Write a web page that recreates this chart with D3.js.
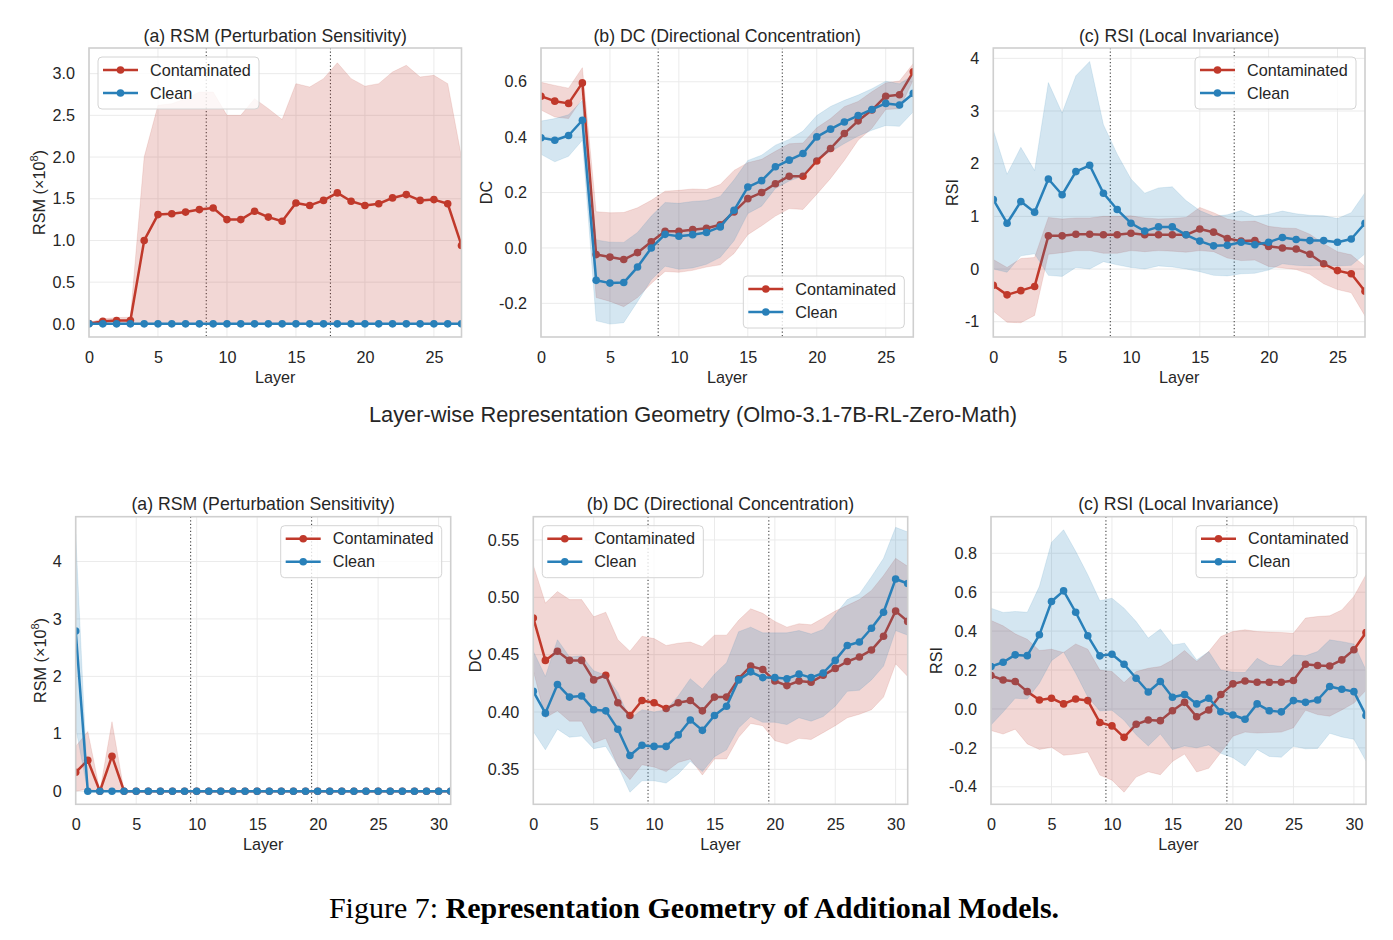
<!DOCTYPE html>
<html>
<head>
<meta charset="utf-8">
<script src="https://cdn.jsdelivr.net/npm/d3@7"></script>
<style>
    body { margin: 0; background: #fff; }
    svg text { font-family: "Liberation Sans", Arial, sans-serif; fill: #262626; }
</style>
</head>
<body>
<svg id="fig" width="1393" height="940"></svg>
<script>
// ---- top row: Olmo-3.1-7B-RL-Zero-Math (28 layers) ----
const olmoRsmCont   = [0.005, 0.03, 0.04, 0.04, 1.0, 1.31, 1.32, 1.34, 1.37, 1.39, 1.25, 1.25, 1.35, 1.28, 1.23, 1.45, 1.42, 1.48, 1.57, 1.47, 1.42, 1.44, 1.51, 1.55, 1.48, 1.49, 1.44, 0.94];
const olmoRsmContSd = [0.01, 0.03, 0.035, 0.04, 1.0, 1.31, 1.32, 1.36, 1.41, 1.39, 1.25, 1.25, 1.35, 1.30, 1.22, 1.43, 1.42, 1.46, 1.56, 1.47, 1.43, 1.44, 1.51, 1.55, 1.48, 1.49, 1.44, 1.06];
const olmoRsmClean   = [0, 0, 0, 0, 0, 0, 0, 0, 0, 0, 0, 0, 0, 0, 0, 0, 0, 0, 0, 0, 0, 0, 0, 0, 0, 0, 0, 0];
const olmoRsmCleanSd = [0, 0, 0, 0, 0, 0, 0, 0, 0, 0, 0, 0, 0, 0, 0, 0, 0, 0, 0, 0, 0, 0, 0, 0, 0, 0, 0, 0];

const olmoDcCont    = [0.548, 0.53, 0.522, 0.596, -0.024, -0.033, -0.042, -0.017, 0.022, 0.06, 0.06, 0.066, 0.071, 0.084, 0.13, 0.178, 0.2, 0.232, 0.259, 0.259, 0.314, 0.359, 0.413, 0.459, 0.498, 0.548, 0.553, 0.636];
const olmoDcContSd  = [0.05, 0.057, 0.055, 0.055, 0.155, 0.16, 0.17, 0.162, 0.15, 0.145, 0.148, 0.147, 0.14, 0.145, 0.15, 0.13, 0.12, 0.117, 0.117, 0.12, 0.12, 0.108, 0.097, 0.07, 0.066, 0.048, 0.05, 0.03];
const olmoDcClean   = [0.398, 0.389, 0.406, 0.461, -0.117, -0.127, -0.125, -0.069, 0.0, 0.049, 0.042, 0.048, 0.056, 0.076, 0.136, 0.22, 0.243, 0.293, 0.317, 0.341, 0.401, 0.429, 0.455, 0.478, 0.5, 0.522, 0.516, 0.558];
const olmoDcCleanSd = [0.06, 0.078, 0.075, 0.072, 0.146, 0.148, 0.145, 0.125, 0.115, 0.115, 0.119, 0.12, 0.115, 0.11, 0.11, 0.096, 0.092, 0.078, 0.075, 0.081, 0.077, 0.082, 0.078, 0.074, 0.075, 0.08, 0.077, 0.066];

const olmoRsiCont    = [-0.31, -0.49, -0.41, -0.33, 0.63, 0.63, 0.66, 0.66, 0.65, 0.65, 0.68, 0.65, 0.65, 0.65, 0.65, 0.76, 0.70, 0.58, 0.53, 0.54, 0.43, 0.40, 0.38, 0.28, 0.10, -0.03, -0.09, -0.42];
const olmoRsiContSd  = [0.49, 0.52, 0.61, 0.55, 0.35, 0.32, 0.31, 0.31, 0.35, 0.35, 0.33, 0.32, 0.3, 0.31, 0.33, 0.41, 0.37, 0.37, 0.37, 0.37, 0.38, 0.38, 0.39, 0.38, 0.38, 0.36, 0.36, 0.47];
const olmoRsiClean   = [1.32, 0.87, 1.28, 1.08, 1.71, 1.41, 1.85, 1.97, 1.44, 1.13, 0.87, 0.72, 0.8, 0.8, 0.65, 0.53, 0.44, 0.45, 0.51, 0.46, 0.51, 0.6, 0.56, 0.54, 0.54, 0.51, 0.57, 0.87];
const olmoRsiCleanSd = [1.32, 0.93, 1.03, 0.79, 1.83, 1.55, 1.82, 1.97, 1.3, 1.05, 0.84, 0.72, 0.74, 0.76, 0.65, 0.58, 0.56, 0.58, 0.6, 0.54, 0.53, 0.5, 0.49, 0.48, 0.47, 0.45, 0.5, 0.58];

// ---- bottom row: additional model (32 layers) ----
const addRsmCont    = [0.33, 0.54, 0.0, 0.61, 0, 0, 0, 0, 0, 0, 0, 0, 0, 0, 0, 0, 0, 0, 0, 0, 0, 0, 0, 0, 0, 0, 0, 0, 0, 0, 0, 0];
const addRsmContSd  = [0.45, 0.5, 0.0, 0.6, 0, 0, 0, 0, 0, 0, 0, 0, 0, 0, 0, 0, 0, 0, 0, 0, 0, 0, 0, 0, 0, 0, 0, 0, 0, 0, 0, 0];
const addRsmClean   = [2.79, 0, 0, 0, 0, 0, 0, 0, 0, 0, 0, 0, 0, 0, 0, 0, 0, 0, 0, 0, 0, 0, 0, 0, 0, 0, 0, 0, 0, 0, 0, 0];
const addRsmCleanSd = [1.69, 0, 0, 0, 0, 0, 0, 0, 0, 0, 0, 0, 0, 0, 0, 0, 0, 0, 0, 0, 0, 0, 0, 0, 0, 0, 0, 0, 0, 0, 0, 0];

const addDcCont    = [0.482, 0.445, 0.453, 0.445, 0.445, 0.428, 0.432, 0.408, 0.397, 0.41, 0.408, 0.403, 0.408, 0.41, 0.401, 0.413, 0.413, 0.429, 0.44, 0.437, 0.427, 0.423, 0.427, 0.426, 0.432, 0.438, 0.444, 0.448, 0.454, 0.466, 0.488, 0.479];
const addDcContSd  = [0.046, 0.05, 0.052, 0.053, 0.053, 0.055, 0.055, 0.055, 0.056, 0.056, 0.056, 0.055, 0.052, 0.051, 0.056, 0.054, 0.054, 0.051, 0.05, 0.049, 0.052, 0.051, 0.05, 0.05, 0.05, 0.05, 0.049, 0.05, 0.052, 0.053, 0.046, 0.048];
const addDcClean   = [0.418, 0.399, 0.424, 0.413, 0.414, 0.402, 0.401, 0.385, 0.362, 0.371, 0.37, 0.37, 0.38, 0.393, 0.384, 0.397, 0.405, 0.428, 0.435, 0.43, 0.43, 0.429, 0.433, 0.43, 0.434, 0.445, 0.458, 0.461, 0.473, 0.487, 0.516, 0.512];
const addDcCleanSd = [0.035, 0.032, 0.039, 0.035, 0.035, 0.034, 0.031, 0.032, 0.032, 0.031, 0.03, 0.032, 0.034, 0.036, 0.036, 0.036, 0.038, 0.042, 0.039, 0.039, 0.039, 0.04, 0.038, 0.038, 0.038, 0.04, 0.04, 0.042, 0.045, 0.047, 0.045, 0.045];

const addRsiCont    = [0.172, 0.149, 0.141, 0.089, 0.046, 0.055, 0.026, 0.051, 0.043, -0.07, -0.087, -0.146, -0.079, -0.057, -0.06, -0.009, 0.034, -0.04, -0.005, 0.074, 0.129, 0.144, 0.137, 0.137, 0.137, 0.146, 0.23, 0.223, 0.221, 0.252, 0.304, 0.393];
const addRsiContSd  = [0.283, 0.278, 0.245, 0.269, 0.254, 0.252, 0.264, 0.283, 0.264, 0.27, 0.279, 0.282, 0.271, 0.266, 0.278, 0.261, 0.266, 0.284, 0.3, 0.298, 0.269, 0.263, 0.261, 0.258, 0.256, 0.243, 0.237, 0.252, 0.258, 0.257, 0.274, 0.297];
const addRsiClean   = [0.218, 0.24, 0.278, 0.274, 0.381, 0.552, 0.607, 0.497, 0.376, 0.273, 0.281, 0.23, 0.158, 0.087, 0.141, 0.06, 0.074, 0.026, 0.055, -0.014, -0.031, -0.053, 0.026, -0.009, -0.015, 0.043, 0.034, 0.046, 0.115, 0.101, 0.089, -0.034];
const addRsiCleanSd = [0.3, 0.256, 0.223, 0.223, 0.249, 0.304, 0.314, 0.313, 0.314, 0.283, 0.288, 0.288, 0.291, 0.277, 0.27, 0.269, 0.264, 0.226, 0.24, 0.214, 0.22, 0.24, 0.234, 0.235, 0.233, 0.235, 0.239, 0.249, 0.24, 0.245, 0.245, 0.234];

// ticks
const xTicksTop = [0, 5, 10, 15, 20, 25];
const xTicksBottom = [0, 5, 10, 15, 20, 25, 30];
const yTicksRsmTop = [0, 0.5, 1, 1.5, 2, 2.5, 3];
const yTicksDcTop = [-0.2, 0, 0.2, 0.4, 0.6];
const yTicksRsiTop = [-1, 0, 1, 2, 3, 4];
const yTicksRsmBottom = [0, 1, 2, 3, 4];
const yTicksDcBottom = [0.35, 0.4, 0.45, 0.5, 0.55];
const yTicksRsiBottom = [-0.4, -0.2, 0, 0.2, 0.4, 0.6, 0.8];

const seriesNames = ['Contaminated', 'Clean'];
const seriesColors = ['#c0392b', '#2980b9'];

class LayerPanel {
    constructor(_config) {
        this.config = _config;
        this.initVis();
    }

    initVis() {
        let vis = this;
        let c = vis.config;
        vis.width = c.box[2] - c.box[0];
        vis.height = c.box[3] - c.box[1];

        vis.xScale = d3.scaleLinear().domain([0, c.xMax]).range([0, vis.width]);
        vis.yScale = d3.scaleLinear().domain(c.yDomain).range([vis.height, 0]);

        vis.chart = d3.select('#fig').append('g')
            .attr('transform', `translate(${c.box[0]},${c.box[1]})`);

        vis.chart.append('clipPath').attr('id', c.id + '_clip')
            .append('rect').attr('width', vis.width).attr('height', vis.height);

        vis.render();
    }

    render() {
        let vis = this;
        let c = vis.config;
        let x = vis.xScale, y = vis.yScale;

        // grid
        vis.chart.append('g').selectAll('line').data(c.yTicks).join('line')
            .attr('x1', 0).attr('x2', vis.width)
            .attr('y1', d => y(d)).attr('y2', d => y(d))
            .attr('stroke', '#ebebeb').attr('stroke-width', 1);
        vis.chart.append('g').selectAll('line').data(c.xTicks).join('line')
            .attr('x1', d => x(d)).attr('x2', d => x(d))
            .attr('y1', 0).attr('y2', vis.height)
            .attr('stroke', '#ebebeb').attr('stroke-width', 1);

        let plot = vis.chart.append('g').attr('clip-path', `url(#${c.id}_clip)`);

        // boundary markers
        plot.selectAll('.vmark').data(c.marks).join('line')
            .attr('x1', d => x(d)).attr('x2', d => x(d))
            .attr('y1', 0).attr('y2', vis.height)
            .attr('stroke', '#444').attr('stroke-width', 1.1)
            .attr('stroke-dasharray', '1.3,2.2');

        let floor = c.floor;
        c.series.forEach((s, k) => {
            let rows = s.mean.map((m, i) => ({ i: i, m: m, sd: s.sd[i] }));
            let area = d3.area()
                .x(d => x(d.i))
                .y0(d => y(floor !== undefined ? Math.max(floor, d.m - d.sd) : d.m - d.sd))
                .y1(d => y(d.m + d.sd));
            let line = d3.line().x(d => x(d.i)).y(d => y(d.m));
            plot.append('path').datum(rows)
                .attr('d', area)
                .attr('fill', seriesColors[k]).attr('fill-opacity', 0.2)
                .attr('stroke', seriesColors[k]).attr('stroke-opacity', 0.12).attr('stroke-width', 1);
            plot.append('path').datum(rows)
                .attr('d', line)
                .attr('fill', 'none').attr('stroke', seriesColors[k])
                .attr('stroke-width', 2.5).attr('stroke-linejoin', 'round');
            plot.append('g').selectAll('circle').data(rows).join('circle')
                .attr('cx', d => x(d.i)).attr('cy', d => y(d.m)).attr('r', 3.8)
                .attr('fill', seriesColors[k]);
        });

        // spines
        vis.chart.append('rect')
            .attr('width', vis.width).attr('height', vis.height)
            .attr('fill', 'none').attr('stroke', '#cfcfcf').attr('stroke-width', 1.6);

        // tick labels
        let yAxis = d3.axisLeft(y).tickValues(c.yTicks).tickSize(0).tickPadding(14)
            .tickFormat(d => d.toFixed(c.dec));
        let yG = vis.chart.append('g').call(yAxis);
        yG.select('.domain').remove();
        yG.selectAll('text').attr('font-size', 16.2).attr('font-family', '"Liberation Sans", Arial, sans-serif').attr('fill', '#262626');

        let xAxis = d3.axisBottom(x).tickValues(c.xTicks).tickSize(0).tickPadding(14.5);
        let xG = vis.chart.append('g').attr('transform', `translate(0,${vis.height})`).call(xAxis);
        xG.select('.domain').remove();
        xG.selectAll('text').attr('font-size', 16.2).attr('font-family', '"Liberation Sans", Arial, sans-serif').attr('fill', '#262626');

        let maxW = 0;
        yG.selectAll('text').each(function () { maxW = Math.max(maxW, this.getComputedTextLength()); });

        let yl = vis.chart.append('text')
            .attr('transform', `translate(${-14 - maxW - 7},${vis.height / 2}) rotate(-90)`)
            .attr('text-anchor', 'middle')
            .attr('font-size', 16.2);
        if (c.sup) {
            yl.append('tspan').text(c.ylabel + ' (×10');
            yl.append('tspan').attr('dy', -7).attr('font-size', 11).text('8');
            yl.append('tspan').attr('dy', 7).text(')');
        } else {
            yl.text(c.ylabel);
        }

        vis.chart.append('text')
            .attr('x', vis.width / 2).attr('y', vis.height + 46)
            .attr('text-anchor', 'middle').attr('font-size', 16.2)
            .text('Layer');

        vis.chart.append('text')
            .attr('x', vis.width / 2).attr('y', -6.5)
            .attr('text-anchor', 'middle').attr('font-size', 17.7)
            .text(c.title);

        // legend
        let lw = 161, lh = 52, inset = 9;
        let lx = c.legend.includes('l') ? inset : vis.width - inset - lw;
        let ly = c.legend.includes('t') ? inset : vis.height - inset - lh;
        let lg = vis.chart.append('g').attr('transform', `translate(${lx},${ly})`);
        lg.append('rect').attr('width', lw).attr('height', lh).attr('rx', 4)
            .attr('fill', '#fff').attr('fill-opacity', 0.8)
            .attr('stroke', '#d4d4d4').attr('stroke-width', 1);
        seriesNames.forEach((n, k) => {
            let cy = 13 + k * 23;
            lg.append('line').attr('x1', 5).attr('x2', 40).attr('y1', cy).attr('y2', cy)
                .attr('stroke', seriesColors[k]).attr('stroke-width', 2.5);
            lg.append('circle').attr('cx', 22.5).attr('cy', cy).attr('r', 3.8).attr('fill', seriesColors[k]);
            lg.append('text').attr('x', 52).attr('y', cy).attr('dy', '0.35em')
                .attr('font-size', 16.2).text(n);
        });
    }
}

const panels = [
    { id: 'ta', title: '(a) RSM (Perturbation Sensitivity)', ylabel: 'RSM', sup: true, box: [89, 48, 461.5, 337],
      xMax: 27, xTicks: xTicksTop, yDomain: [-0.1575, 3.3075], yTicks: yTicksRsmTop, dec: 1, marks: [8.5, 17.5], floor: 0, legend: 'tl',
      series: [{ mean: olmoRsmCont, sd: olmoRsmContSd }, { mean: olmoRsmClean, sd: olmoRsmCleanSd }] },
    { id: 'tb', title: '(b) DC (Directional Concentration)', ylabel: 'DC', box: [541, 48, 913.3, 337],
      xMax: 27, xTicks: xTicksTop, yDomain: [-0.3216, 0.722], yTicks: yTicksDcTop, dec: 1, marks: [8.5, 17.5], legend: 'br',
      series: [{ mean: olmoDcCont, sd: olmoDcContSd }, { mean: olmoDcClean, sd: olmoDcCleanSd }] },
    { id: 'tc', title: '(c) RSI (Local Invariance)', ylabel: 'RSI', box: [993.3, 48, 1365, 337],
      xMax: 27, xTicks: xTicksTop, yDomain: [-1.29, 4.196], yTicks: yTicksRsiTop, dec: 0, marks: [8.5, 17.5], legend: 'tr',
      series: [{ mean: olmoRsiCont, sd: olmoRsiContSd }, { mean: olmoRsiClean, sd: olmoRsiCleanSd }] },
    { id: 'ba', title: '(a) RSM (Perturbation Sensitivity)', ylabel: 'RSM', sup: true, box: [75.7, 516.7, 450.7, 804.3],
      xMax: 31, xTicks: xTicksBottom, yDomain: [-0.2275, 4.78], yTicks: yTicksRsmBottom, dec: 0, marks: [9.5, 19.5], floor: 0, legend: 'tr',
      series: [{ mean: addRsmCont, sd: addRsmContSd }, { mean: addRsmClean, sd: addRsmCleanSd }] },
    { id: 'bb', title: '(b) DC (Directional Concentration)', ylabel: 'DC', box: [533.3, 516.7, 907.7, 804.3],
      xMax: 31, xTicks: xTicksBottom, yDomain: [0.3195, 0.5703], yTicks: yTicksDcBottom, dec: 2, marks: [9.5, 19.5], legend: 'tl',
      series: [{ mean: addDcCont, sd: addDcContSd }, { mean: addDcClean, sd: addDcCleanSd }] },
    { id: 'bc', title: '(c) RSI (Local Invariance)', ylabel: 'RSI', box: [991, 516.7, 1366, 804.3],
      xMax: 31, xTicks: xTicksBottom, yDomain: [-0.49, 0.988], yTicks: yTicksRsiBottom, dec: 1, marks: [9.5, 19.5], legend: 'tr',
      series: [{ mean: addRsiCont, sd: addRsiContSd }, { mean: addRsiClean, sd: addRsiCleanSd }] }
];

d3.select('#fig').append('rect').attr('width', 1393).attr('height', 940).attr('fill', '#fff');
panels.forEach(p => new LayerPanel(p));

d3.select('#fig').append('text')
    .attr('x', 693).attr('y', 422)
    .attr('text-anchor', 'middle').attr('font-size', 21.8)
    .text('Layer-wise Representation Geometry (Olmo-3.1-7B-RL-Zero-Math)');

let cap = d3.select('#fig').append('text')
    .attr('x', 694).attr('y', 918)
    .attr('text-anchor', 'middle').attr('font-size', 30)
    .style('font-family', '"Liberation Serif", "Times New Roman", serif')
    .style('fill', '#000');
cap.append('tspan').text('Figure 7: ');
cap.append('tspan').attr('font-weight', 'bold').text('Representation Geometry of Additional Models.');
</script>
</body>
</html>
